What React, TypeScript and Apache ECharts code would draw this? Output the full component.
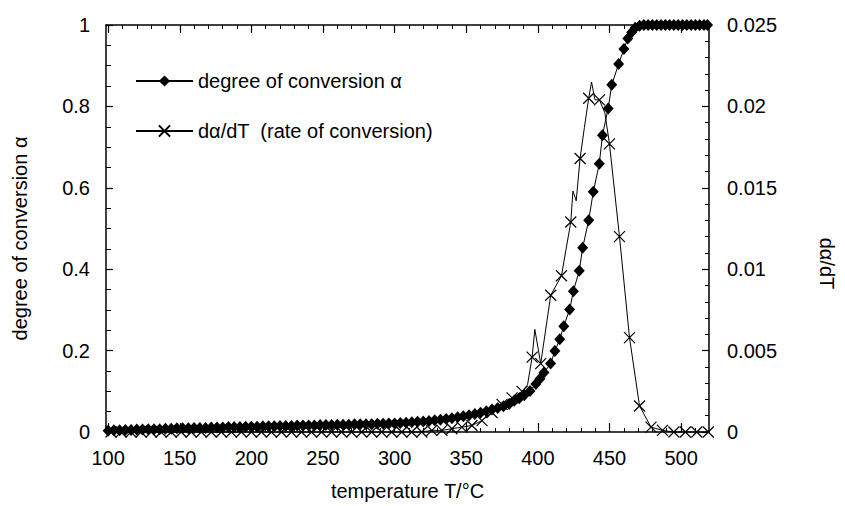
import React, { useEffect, useRef } from "react";
import * as echarts from "echarts";

// degree of conversion alpha (left axis)
const alphaT = [
  100, 104, 108, 112, 116, 120, 124, 128, 132, 136, 140, 144, 148, 152, 156, 160, 164, 168, 172, 176,
  180, 184, 188, 192, 196, 200, 204, 208, 212, 216, 220, 224, 228, 232, 236, 240, 244, 248, 252, 256,
  260, 264, 268, 272, 276, 280, 284, 288, 292, 296, 300, 304, 308, 312, 316, 320, 324, 328, 332, 336,
  340, 344, 348, 352, 356, 360, 364, 368, 372, 376, 380, 383.6, 387, 390.5, 394.5, 398.6, 401.5, 404.3,
  408.9, 411.9, 415.3, 418.1, 422.2, 424.8, 428.9, 431.3, 435.5, 438.7, 442.9, 445.1, 449.1, 451.6,
  456.4, 460.1, 462.8, 465.5, 468, 471, 474, 477, 480, 483, 486, 489, 492, 495, 498, 501, 504, 507,
  510, 513, 516, 518.5,
];
const alphaV = [
  0.003, 0.004, 0.004, 0.005, 0.005, 0.006, 0.006, 0.007, 0.007, 0.007, 0.008, 0.008, 0.009, 0.009, 0.009, 0.01, 0.01, 0.01, 0.011, 0.011,
  0.011, 0.012, 0.012, 0.012, 0.013, 0.013, 0.013, 0.014, 0.014, 0.014, 0.015, 0.015, 0.015, 0.016, 0.016, 0.016, 0.016, 0.017, 0.017, 0.017,
  0.018, 0.018, 0.018, 0.019, 0.019, 0.019, 0.019, 0.02, 0.02, 0.021, 0.021, 0.022, 0.023, 0.024, 0.025, 0.026, 0.027, 0.029, 0.03, 0.032,
  0.034, 0.036, 0.039, 0.041, 0.044, 0.047, 0.051, 0.055, 0.059, 0.063, 0.069, 0.077, 0.083, 0.09, 0.101, 0.118, 0.131, 0.146,
  0.168, 0.199, 0.228, 0.26, 0.301, 0.346, 0.396, 0.453, 0.52, 0.59, 0.659, 0.729, 0.795, 0.853,
  0.904, 0.941, 0.967, 0.982, 0.993, 0.998, 1.0, 1.0, 1.0, 1.0, 1.0, 1.0, 1.0, 1.0, 1.0, 1.0, 1.0, 1.0,
  1.0, 1.0, 1.0, 1.0,
];

// rate of conversion d(alpha)/dT (right axis): points marked with a cross
const crossT = [
  102, 109, 116, 123, 130, 137, 144, 151, 158, 165, 172, 179, 186, 193, 200, 207, 214, 221, 228, 235,
  242, 249, 256, 263, 270, 277, 284, 291, 298, 305, 312, 319, 326, 333, 340, 347, 354, 361, 368, 375,
  382, 389, 396, 402, 409, 416.5, 423, 429.5, 435.5, 443, 450, 457, 464, 471, 479, 487, 495, 503, 511, 519,
];
const crossRate = [
  0, 0, 0, 0, 0, 0, 0, 0, 0, 0, 0, 0, 0, 0, 0, 0, 0, 0, 0, 0,
  0, 0, 0, 0, 0, 0, 0, 0, 0, 0, 0, 0, 0.0001, 0.0001, 0.0002, 0.0003, 0.0004, 0.0007, 0.0012, 0.0017,
  0.0021, 0.0025, 0.0046, 0.0042, 0.0084, 0.0096, 0.0129, 0.0168, 0.0205, 0.0204, 0.0177, 0.012, 0.0058, 0.0016, 0.0003, 0.0001, 0, 0, 0, 0,
];
// intermediate points of the thin rate curve (no marker)
const lineOnlyT = [392.8, 397.9, 424.5, 426.8, 432.5, 437.5, 439.9, 446.8];
const lineOnlyRate = [0.0029, 0.0063, 0.0148, 0.0142, 0.0187, 0.0215, 0.0204, 0.0196];

const xMajorTicks = [100, 150, 200, 250, 300, 350, 400, 450, 500];
const xMinorTicks = [
  110, 120, 130, 140, 160, 170, 180, 190, 210, 220, 230, 240, 260, 270, 280, 290, 310, 320, 330, 340,
  360, 370, 380, 390, 410, 420, 430, 440, 460, 470, 480, 490, 510,
];

const seriesNames = ["degree of conversion α", "dα/dT  (rate of conversion)"];

const FONT = "'Liberation Sans', Arial, Helvetica, sans-serif";
const crossPath = "path://M0,0L10,10M10,0L0,10";

export default function App() {
  const ref = useRef<HTMLDivElement>(null);
  useEffect(() => {
    if (!ref.current) return;
    const chart = echarts.init(ref.current, undefined, { renderer: "svg" });

    const alphaData = alphaT.map((t, i) => [t, alphaV[i]]);
    const rateItems: any[] = [];
    crossT.forEach((t, i) => rateItems.push({ value: [t, crossRate[i]] }));
    lineOnlyT.forEach((t, i) => rateItems.push({ value: [t, lineOnlyRate[i]], symbol: "none" }));
    rateItems.sort((a, b) => a.value[0] - b.value[0]);

    const xMin = 98.5;
    const xMax = 519.5;
    const baseX = { type: "value", min: xMin, max: xMax, splitLine: { show: false } };
    const blackLine = { lineStyle: { color: "#000", width: 1.5 } };

    chart.setOption({
      animation: false,
      textStyle: { fontFamily: FONT, color: "#000" },
      grid: { left: 106, right: 127, top: 25, bottom: 71 },
      legend: {
        data: seriesNames,
        orient: "vertical",
        left: 130,
        top: 66,
        itemGap: 30,
        itemWidth: 57,
        itemHeight: 14,
        textStyle: { fontSize: 20, color: "#000", fontFamily: FONT },
        inactiveColor: "#000",
      },
      xAxis: [
        {
          ...baseX,
          position: "bottom",
          axisLine: { show: true, ...blackLine },
          axisTick: { show: true, inside: true, length: 9, customValues: xMajorTicks, lineStyle: { color: "#000", width: 1.2 } },
          axisLabel: { show: true, customValues: xMajorTicks, margin: 16, fontSize: 20, color: "#000", fontFamily: FONT },
          name: "temperature T/°C",
          nameLocation: "middle",
          nameGap: 49,
          nameTextStyle: { fontSize: 20, color: "#000", fontFamily: FONT },
        },
        {
          ...baseX,
          position: "bottom",
          axisLine: { show: false },
          axisTick: { show: true, inside: true, length: 4, customValues: xMinorTicks, lineStyle: { color: "#000", width: 1 } },
          axisLabel: { show: false },
        },
        {
          ...baseX,
          position: "top",
          axisLine: { show: true, ...blackLine },
          axisTick: { show: true, inside: true, length: 8, customValues: xMajorTicks, lineStyle: { color: "#000", width: 1.2 } },
          axisLabel: { show: false },
        },
        {
          ...baseX,
          position: "top",
          axisLine: { show: false },
          axisTick: { show: true, inside: true, length: 4, customValues: xMinorTicks, lineStyle: { color: "#000", width: 1 } },
          axisLabel: { show: false },
        },
      ],
      yAxis: [
        {
          type: "value",
          position: "left",
          min: 0,
          max: 1,
          interval: 0.2,
          splitLine: { show: false },
          axisLine: { show: true, ...blackLine },
          axisTick: { show: true, inside: true, length: 7, lineStyle: { color: "#000", width: 1.2 } },
          minorTick: { show: true, splitNumber: 4, length: 5, lineStyle: { color: "#000", width: 1 } },
          axisLabel: { margin: 16, fontSize: 20, color: "#000", fontFamily: FONT },
          name: "degree of conversion α",
          nameLocation: "middle",
          nameGap: 76,
          nameRotate: 90,
          nameTextStyle: { fontSize: 20, color: "#000", fontFamily: FONT, padding: [0, 20, 0, 0] },
        },
        {
          type: "value",
          position: "right",
          min: 0,
          max: 0.025,
          interval: 0.005,
          splitLine: { show: false },
          axisLine: { show: true, ...blackLine },
          axisTick: { show: true, inside: true, length: 7, lineStyle: { color: "#000", width: 1.2 } },
          minorTick: { show: true, splitNumber: 5, length: 4, lineStyle: { color: "#000", width: 1 } },
          axisLabel: { margin: 18, fontSize: 20, color: "#000", fontFamily: FONT },
          name: "dα/dT",
          nameLocation: "middle",
          nameGap: 108,
          nameRotate: -90,
          nameTextStyle: { fontSize: 20, color: "#000", fontFamily: FONT, padding: [0, 0, 0, 70] },
        },
      ],
      series: [
        {
          name: seriesNames[0],
          type: "line",
          xAxisIndex: 0,
          yAxisIndex: 0,
          data: alphaData,
          clip: false,
          symbol: "diamond",
          symbolSize: [11, 12],
          showAllSymbol: true,
          lineStyle: { color: "#000", width: 1 },
          itemStyle: { color: "#000", borderWidth: 0 },
          z: 3,
        },
        {
          name: seriesNames[1],
          type: "line",
          xAxisIndex: 0,
          yAxisIndex: 1,
          data: rateItems,
          clip: false,
          symbol: crossPath,
          symbolSize: 11,
          showAllSymbol: true,
          lineStyle: { color: "#000", width: 1 },
          itemStyle: { color: "#000", borderColor: "#000", borderWidth: 1.2 },
          z: 2,
        },
      ],
    });
    return () => chart.dispose();
  }, []);
  return (
    <div
      ref={ref}
      style={{ position: "absolute", left: 0, top: 0, width: 845, height: 506, background: "#fff" }}
    />
  );
}
